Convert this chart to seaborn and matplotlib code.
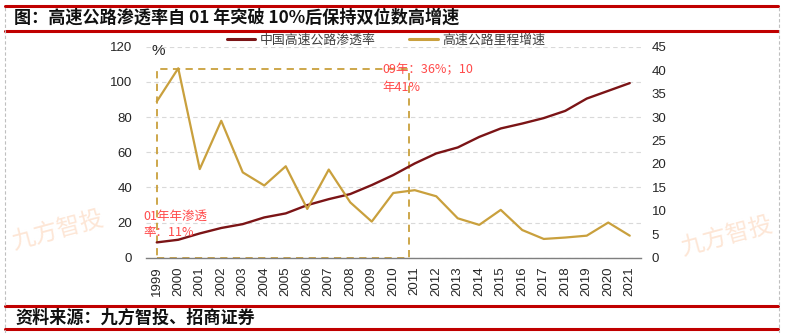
import matplotlib
matplotlib.use("Agg")
import numpy as np
import pandas as pd
import matplotlib.pyplot as plt
import seaborn as sns
from matplotlib.lines import Line2D
from matplotlib.patches import Rectangle

# ---------------- data ----------------
years = ["1999", "2000", "2001", "2002", "2003", "2004", "2005", "2006", "2007", "2008",
         "2009", "2010", "2011", "2012", "2013", "2014", "2015", "2016", "2017", "2018",
         "2019", "2020", "2021"]
penetration = [8.7, 10.2, 13.8, 16.9, 19.1, 22.9, 25.2, 29.9, 33.3, 36.2, 41.3, 47.0,
               53.6, 59.3, 62.7, 68.7, 73.5, 76.3, 79.4, 83.5, 90.5, 94.9, 99.3]
growth = [33.3, 40.4, 18.9, 29.2, 18.2, 15.4, 19.5, 10.4, 18.8, 11.8, 7.7, 13.8,
          14.4, 13.1, 8.4, 7.0, 10.2, 5.9, 4.0, 4.3, 4.7, 7.5, 4.7]
series_names = ["中国高速公路渗透率", "高速公路里程增速"]
left_ticks = [0, 20, 40, 60, 80, 100, 120]
right_ticks = [0, 5, 10, 15, 20, 25, 30, 35, 40, 45]
title = "图：高速公路渗透率自 01 年突破 10%后保持双位数高增速"
source = "资料来源：九方智投、招商证券"
note_0910 = ["09年：36%；10", "年41%"]
note_01 = ["01年年渗透", "率：11%"]
watermark = "九方智投"

# ---------------- style ----------------
sns.set_theme(style="white")
plt.rcParams["font.family"] = ["Liberation Sans", "Noto Sans CJK SC", "DejaVu Sans"]
CJK = ["Noto Sans CJK SC", "DejaVu Sans"]
DARKRED = "#7B1416"
GOLD = "#C9A03D"
RED = "#C00000"
W, H = 785, 333

df = pd.DataFrame({"pos": np.arange(len(years)), "year": years,
                   "penetration": penetration, "growth": growth})

fig = plt.figure(figsize=(W / 100, H / 100), dpi=100)
ax = fig.add_axes([146 / W, 1 - 257.7 / H, (640.5 - 146) / W, (257.7 - 46.7) / H])
ax2 = ax.twinx()

sns.lineplot(data=df, x="pos", y="penetration", ax=ax, color=DARKRED, linewidth=1.7, zorder=3)
sns.lineplot(data=df, x="pos", y="growth", ax=ax2, color=GOLD, linewidth=1.6, zorder=3)

ax.set_xlim(-0.5, len(years) - 0.5)
ax.set_ylim(0, 120)
ax2.set_ylim(0, 45)
ax.set_xlabel("")
ax.set_ylabel("")
ax2.set_ylabel("")

ax.set_xticks(df["pos"])
ax.set_xticklabels(years, rotation=90, fontsize=9.5, color="#262626")
ax.set_xticks(np.arange(len(years) + 1) - 0.5, minor=True)
ax.tick_params(axis="x", which="major", length=0, pad=6.5)
ax.tick_params(axis="x", which="minor", length=4, width=1, color="#7F7F7F", direction="out")
ax.set_yticks(left_ticks)
ax.tick_params(axis="y", length=0, pad=10, labelsize=9.5, labelcolor="#262626")
ax2.set_yticks(right_ticks)
ax2.tick_params(axis="y", length=0, pad=8, labelsize=9.5, labelcolor="#262626")

for a in (ax, ax2):
    for s in ("left", "right", "top"):
        a.spines[s].set_visible(False)
ax.spines["bottom"].set_color("#7F7F7F")
ax.spines["bottom"].set_linewidth(1.0)
ax2.spines["bottom"].set_visible(False)

ax.yaxis.grid(True, linestyle=(0, (4, 3)), color="#D9D9D9", linewidth=0.8)
ax.set_axisbelow(True)

# dashed highlight box (1999 -> between 2010 and 2011, up to 2000 peak)
box = Rectangle((0, 0), 11.75, 107.5, fill=False, edgecolor=GOLD, linewidth=1.3,
                linestyle=(0, (4, 3)), zorder=2, clip_on=False)
ax.add_patch(box)

# annotations
ax.text(10.48, 106.6, note_0910[0], color="#FF4A4A", fontsize=9, family=CJK, va="center", ha="left", zorder=5)
ax.text(10.48, 96.8, note_0910[1], color="#FF4A4A", fontsize=9, family=CJK, va="center", ha="left", zorder=5)
ax.text(-0.64, 23.8, note_01[0], color="#FF4A4A", fontsize=9, family=CJK, va="center", ha="left", zorder=5)
ax.text(-0.64, 14.1, note_01[1], color="#FF4A4A", fontsize=9, family=CJK, va="center", ha="left", zorder=5)

fig.text(158 / W, 1 - 51 / H, "%", fontsize=11, ha="center", va="center", color="#262626")

# legend
handles = [Line2D([], [], color=DARKRED, linewidth=2.2), Line2D([], [], color=GOLD, linewidth=2.2)]
leg = fig.legend(handles, series_names, loc="center", bbox_to_anchor=(386 / W, 1 - 40 / H), ncol=2,
                 frameon=False, handlelength=2.2, handletextpad=0.35, columnspacing=2.6,
                 prop={"family": CJK, "size": 9.3})
for t in leg.get_texts():
    t.set_color("#404040")

# frame decorations: red bars and dashed border
for y in (5.5, 30.5, 306, 329):
    fig.add_artist(Line2D([5 / W, 778 / W], [1 - y / H, 1 - y / H], color=RED, linewidth=2.2))
for x in (5, 778.5):
    fig.add_artist(Line2D([x / W, x / W], [0, 1 - 6 / H], color="#BFBFBF", linewidth=0.8,
                          linestyle=(0, (3, 2))))

fig.text(14 / W, 1 - 18 / H, title, fontsize=12.3, fontweight="bold", family=CJK,
         ha="left", va="center", color="#111111")
fig.text(15 / W, 1 - 317.5 / H, source, fontsize=12.3, fontweight="bold", family=CJK,
         ha="left", va="center", color="#111111")

# watermarks (kept fully inside the frame)
for cx, cy in ((58 / W, 1 - 230 / H), (727 / W, 1 - 236 / H)):
    fig.text(cx, cy, watermark, fontsize=17, family=CJK, rotation=15, color="#FDE6D6",
             ha="center", va="center", zorder=0)

fig.savefig("out.png", dpi=100)
